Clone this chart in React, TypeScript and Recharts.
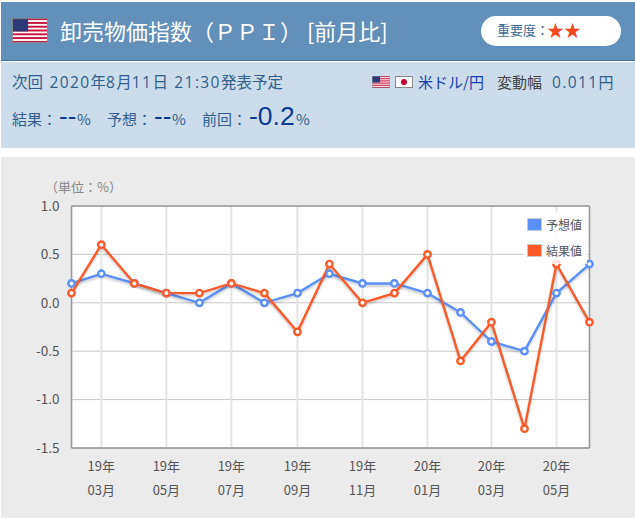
import React from 'react';
import {
  LineChart,
  Line,
  XAxis,
  YAxis,
  CartesianGrid,
  ReferenceLine
} from 'recharts';

const months = [
  '2019-02-01', '2019-03-01', '2019-04-01', '2019-05-01', '2019-06-01', '2019-07-01',
  '2019-08-01', '2019-09-01', '2019-10-01', '2019-11-01', '2019-12-01', '2020-01-01',
  '2020-02-01', '2020-03-01', '2020-04-01', '2020-05-01', '2020-06-01'
];
const forecast = [0.2, 0.3, 0.2, 0.1, 0, 0.2, 0, 0.1, 0.3, 0.2, 0.2, 0.1, -0.1, -0.4, -0.5, 0.1, 0.4];
const result = [0.1, 0.6, 0.2, 0.1, 0.1, 0.2, 0.1, -0.3, 0.4, 0, 0.1, 0.5, -0.6, -0.2, -1.3, 0.4, -0.2];
const xTickMonths = ['2019-03-01', '2019-05-01', '2019-07-01', '2019-09-01', '2019-11-01', '2020-01-01', '2020-03-01', '2020-05-01'];
const yTicks = [-1.5, -1, -0.5, 0, 0.5, 1];

const toTime = (d: string) => Date.parse(d + 'T00:00:00Z');

const chartData = months.map((month, i) => ({
  time: toTime(month),
  forecast: forecast[i],
  result: result[i]
}));

const FONT = '"Noto Sans CJK JP", "Noto Sans", sans-serif';
const BLUE = '#5b8ffa';
const ORANGE = '#fb5a28';

// two line tick: year on top, month below
const MonthTick = ({ x, y, payload }: any) => {
  const d = new Date(payload.value);
  const year = String(d.getUTCFullYear()).slice(2);
  const month = String(d.getUTCMonth() + 1).padStart(2, '0');
  return (
    <g>
      <text x={x} y={y + 15} textAnchor="middle" fontSize={13} fill="#555">{year}年</text>
      <text x={x} y={y + 39} textAnchor="middle" fontSize={13} fill="#555">{month}月</text>
    </g>
  );
};

const Swatch = ({ y, color, label }: { y: number; color: string; label: string }) => (
  <div style={{ position: 'absolute', left: 4, top: y, display: 'flex', alignItems: 'center', height: 14, fontSize: 12, color: '#555' }}>
    <span style={{ width: 13, height: 11, background: color, border: '1.5px solid #ccc', marginRight: 4 }} />
    <span>{label}</span>
  </div>
);

const UsFlag = ({ x, y, w, h }: { x: number; y: number; w: number; h: number }) => (
  <svg style={{ position: 'absolute', left: x, top: y }} width={w} height={h} viewBox="0 0 38 26">
    <rect width="38" height="26" fill="#fff" />
    {[0, 4, 8, 12, 16, 20, 24].map(s => (
      <rect key={s} y={s} width="38" height="2" fill="#c8103a" />
    ))}
    <rect width="17" height="14" fill="#2d3a78" />
    <rect x="0.5" y="0.5" width="37" height="25" fill="none" stroke="#888" />
  </svg>
);

const Txt = ({ x, y, size, color, font, children }: any) => (
  <span style={{ position: 'absolute', left: x, top: y, fontSize: size, color, lineHeight: 1, whiteSpace: 'pre', fontFamily: font }}>
    {children}
  </span>
);

// latin runs are set wider than the CJK font would draw them
const Mixed = ({ text }: { text: string }) => (
  <>
    {text.split(/([0-9:.]+)/).map((part, i) =>
      /^[0-9:.]+$/.test(part) ? (
        <span key={i} style={{ fontFamily: '"Open Sans"', fontSize: 15.5, letterSpacing: 1.4 }}>{part}</span>
      ) : (
        <span key={i}>{part}</span>
      )
    )}
  </>
);

export default function App() {
  return (
    <div style={{ position: 'absolute', left: 0, top: 0, width: 635, height: 518, background: '#fff', fontFamily: FONT, overflow: 'hidden' }}>
      <style>{'.recharts-line-curve { filter: drop-shadow(0 2px 1px rgba(0,0,0,0.2)); }'}</style>
      {/* header */}
      <div style={{ position: 'absolute', left: 1, top: 2, width: 634, height: 58, background: '#6190bb', borderBottom: '1px solid #3f6d9c' }} />
      <div style={{ position: 'absolute', left: 1, top: 62, width: 634, height: 86, background: '#cddcea' }} />
      <UsFlag x={12} y={18} w={36} h={25} />
      <Txt x={60} y={19} size={22} color="#fff">卸売物価指数（ＰＰＩ） [前月比]</Txt>
      <div style={{ position: 'absolute', left: 481, top: 16, width: 140, height: 30, borderRadius: 15, background: '#fff' }} />
      <Txt x={497} y={23} size={13} color="#3f6a96">重要度：</Txt>
      <Txt x={547} y={21} size={17} color="#f4481f">★★</Txt>

      <Txt x={12} y={74} size={15.5} color="#2f5f8f">
        <span style={{ wordSpacing: 3 }}><Mixed text="次回 2020年8月11日 21:30発表予定" /></span>
      </Txt>
      <UsFlag x={372} y={76} w={18} h={12} />
      <svg style={{ position: 'absolute', left: 395, top: 76 }} width={18} height={12}>
        <rect x="0.5" y="0.5" width="17" height="11" fill="#fff" stroke="#888" />
        <circle cx="9" cy="6" r="3" fill="#c00030" />
      </svg>
      <Txt x={418} y={74} size={15} color="#1740b0">米ドル/円</Txt>
      <Txt x={497} y={74} size={15} color="#444">変動幅</Txt>
      <Txt x={552} y={74} size={15} color="#2f5f8f"><Mixed text="0.011円" /></Txt>

      <Txt x={12} y={111} size={15} color="#2f5f8f">結果：</Txt>
      <Txt x={59} y={103} size={26} color="#0b3a94" font="Liberation Sans">--</Txt>
      <Txt x={77} y={111} size={15} color="#2f5f8f">%</Txt>
      <Txt x={107} y={111} size={15} color="#2f5f8f">予想：</Txt>
      <Txt x={154} y={103} size={26} color="#0b3a94" font="Liberation Sans">--</Txt>
      <Txt x={172} y={111} size={15} color="#2f5f8f">%</Txt>
      <Txt x={202} y={111} size={15} color="#2f5f8f">前回：</Txt>
      <Txt x={249} y={103} size={26.5} color="#0b3a94" font="Liberation Sans">-0.2</Txt>
      <Txt x={296} y={111} size={15} color="#2f5f8f">%</Txt>

      {/* chart panel */}
      <div style={{ position: 'absolute', left: 1, top: 157, width: 634, height: 361, background: '#ebebeb' }}>
        <Txt x={44} y={23} size={13} color="#888">（単位：%）</Txt>
        <LineChart
          width={634}
          height={361}
          data={chartData}
          margin={{ top: 49, right: 45.5, left: 0, bottom: 0 }}
          style={{ fontFamily: FONT }}
        >
          <CartesianGrid vertical={false} stroke="#c8c8c8" fill="#fff" />
          <CartesianGrid horizontal={false} stroke="#e4e4e4" strokeWidth={2} />
          <XAxis
            dataKey="time"
            type="number"
            scale="time"
            domain={['dataMin', 'dataMax']}
            ticks={xTickMonths.map(toTime)}
            interval={0}
            height={70}
            tick={<MonthTick />}
            tickLine={false}
            axisLine={{ stroke: '#999', strokeWidth: 1.5 }}
          />
          <YAxis
            width={70.5}
            domain={[-1.5, 1]}
            ticks={yTicks}
            interval={0}
            tickFormatter={(v: number) => v.toFixed(1)}
            tick={{ fontSize: 13.5, fill: '#555' }}
            tickLine={false}
            tickMargin={6}
            axisLine={{ stroke: '#999', strokeWidth: 1.5 }}
          />
          <ReferenceLine y={1} stroke="#999" strokeWidth={1.5} />
          <ReferenceLine x={toTime(months[months.length - 1])} stroke="#999" strokeWidth={1.5} />
          <Line
            dataKey="forecast"
            stroke={BLUE}
            strokeWidth={2.4}
            dot={{ r: 3.2, fill: '#fff', stroke: BLUE, strokeWidth: 2.4 }}
            isAnimationActive={false}
          />
          <Line
            dataKey="result"
            stroke={ORANGE}
            strokeWidth={2.4}
            dot={{ r: 3.2, fill: '#fff', stroke: ORANGE, strokeWidth: 2.4 }}
            isAnimationActive={false}
          />
        </LineChart>
        {/* legend sits on a translucent box over the plot */}
        <div style={{ position: 'absolute', left: 522, top: 55, width: 64, height: 52, background: 'rgba(255,255,255,0.8)' }}>
          <Swatch y={5} color={BLUE} label="予想値" />
          <Swatch y={31} color={ORANGE} label="結果値" />
        </div>
      </div>
    </div>
  );
}
